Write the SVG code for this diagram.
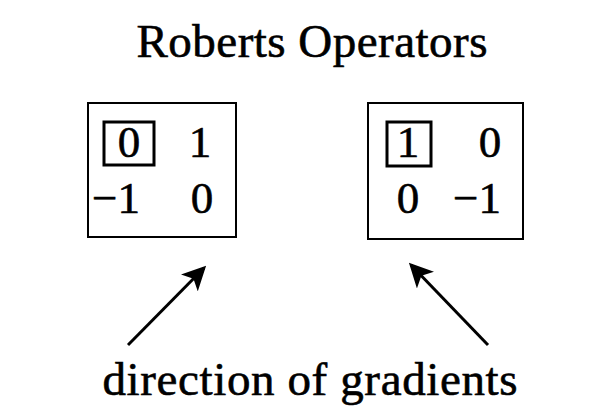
<svg xmlns="http://www.w3.org/2000/svg" width="611" height="414" viewBox="0 0 611 414">
<style>
text{font-family:"Liberation Serif","Times New Roman",serif;fill:#000;stroke:#000;stroke-width:0.6}
.t{font-size:47px}
.d{font-size:45px}
.box{fill:none;stroke:#000;stroke-width:2}
.cell{fill:none;stroke:#000;stroke-width:3}
.arr{stroke:#000;stroke-width:3;fill:none;marker-end:url(#ah)}
</style>
<defs>
<marker id="ah" markerWidth="8" markerHeight="8" refX="7" refY="4" orient="auto" markerUnits="strokeWidth">
<path d="M0,0 L8,4 L0,8 L2,4 Z" fill="#000"/>
</marker>
</defs>
<rect width="611" height="414" fill="#fff"/>
<text class="t" x="312" y="57" text-anchor="middle" textLength="351" lengthAdjust="spacing">Roberts Operators</text>
<g id="op1">
<rect class="box" x="88" y="103" width="148" height="134"/>
<rect class="cell" x="104" y="122" width="50" height="43"/>
<text class="d" x="129" y="157" text-anchor="middle">0</text>
<text class="d" x="200" y="157" text-anchor="middle">1</text>
<text class="d" x="116" y="213" text-anchor="middle">−1</text>
<text class="d" x="202" y="213" text-anchor="middle">0</text>
</g>
<g id="op2">
<rect class="box" x="368" y="103" width="155" height="136"/>
<rect class="cell" x="387" y="122" width="44" height="44"/>
<text class="d" x="408" y="157" text-anchor="middle">1</text>
<text class="d" x="490" y="157" text-anchor="middle">0</text>
<text class="d" x="408" y="213" text-anchor="middle">0</text>
<text class="d" x="477" y="213" text-anchor="middle">−1</text>
</g>
<g id="connectors">
<line class="arr" x1="128" y1="345" x2="204" y2="268"/>
<line class="arr" x1="488" y1="345" x2="411" y2="265"/>
</g>
<text class="t" x="310" y="395" text-anchor="middle" textLength="415" lengthAdjust="spacing">direction of gradients</text>
</svg>
